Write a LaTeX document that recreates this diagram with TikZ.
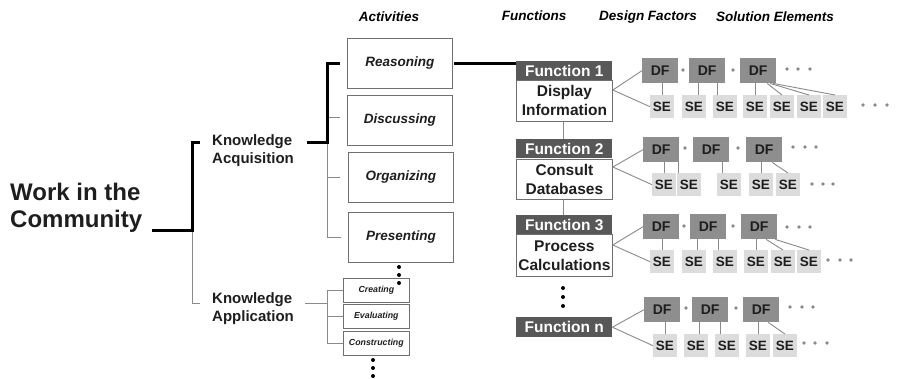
\documentclass[tikz,border=0pt]{standalone}
\usepackage{fontspec}
\setmainfont{Liberation Sans}
\definecolor{headgray}{HTML}{585858}
\definecolor{dfgray}{HTML}{8E8E8E}
\definecolor{segray}{HTML}{DCDCDC}
\definecolor{boxgray}{HTML}{707070}
\definecolor{linegray}{HTML}{8A8A8A}
\definecolor{dotgray}{HTML}{8A8A8A}
\definecolor{inkgray}{HTML}{1E1E1E}
\tikzset{
  thickln/.style={line width=3pt, draw=black},
  thinln/.style={line width=0.9pt, draw=linegray},
  conn/.style={line width=0.9pt, draw=linegray},
  title/.style={font=\fontsize{13.5}{15}\selectfont\bfseries\itshape, inner sep=0},
  grouplbl/.style={font=\fontsize{15}{18}\selectfont\bfseries, align=left, anchor=west, inner sep=0, text=inkgray},
  actbox/.style={draw=boxgray, line width=0.8pt, minimum width=105pt, minimum height=50pt,
    inner sep=0, anchor=north west, font=\fontsize{13.5}{16}\selectfont\bfseries\itshape, text=inkgray},
  smallbox/.style={draw=boxgray, line width=0.7pt, minimum width=66pt, minimum height=24pt,
    inner sep=0, anchor=north west, font=\fontsize{8.8}{10}\selectfont\bfseries\itshape, text=inkgray},
  fhead/.style={fill=headgray, text=white, minimum width=96pt, minimum height=19pt, inner sep=0,
    anchor=north west, font=\fontsize{15.5}{17}\selectfont\bfseries},
  fbody/.style={draw=boxgray, line width=0.8pt, fill=white, minimum width=96pt, inner sep=0,
    anchor=north west, align=center, font=\fontsize{15.5}{19}\selectfont\bfseries, text=inkgray},
  dfbox/.style={fill=dfgray, minimum width=36pt, minimum height=25pt, inner sep=0, anchor=north west,
    font=\fontsize{14}{16}\selectfont\bfseries, text=inkgray},
  sebox/.style={fill=segray, minimum width=23.5pt, minimum height=23pt, inner sep=0, anchor=north west,
    font=\fontsize{13.5}{16}\selectfont\bfseries, text=inkgray},
}
\newcommand{\gdot}[2]{\fill[dotgray] (#1,#2) circle[radius=1.8pt];}
\newcommand{\bdot}[2]{\fill[black] (#1,#2) circle[radius=2pt];}
\begin{document}
\begin{tikzpicture}[x=1pt,y=-1pt]
\useasboundingbox (0,0) rectangle (920,378);

% column titles
\node[title] (tact) at (389,17) {Activities};
\node[title] (tfun) at (534,16) {Functions};
\node[title] (tdf)  at (648,17) {Design Factors};
\node[title] (tse)  at (775,17) {Solution Elements};

% root and second level
\node[font=\fontsize{24}{27}\selectfont\bfseries, align=left, anchor=west, inner sep=0, text=inkgray]
  (root) at (10,208) {Work in the\\Community};
\node[grouplbl] (ka) at (212,151) {Knowledge\\Acquisition};
\node[grouplbl] (kp) at (212,309) {Knowledge\\Application};

% activities
\node[actbox] (a1) at (347,38)  {Reasoning};
\node[actbox] (a2) at (347,95)  {Discussing};
\node[actbox] (a3) at (348,152) {Organizing};
\node[actbox] (a4) at (348,212) {Presenting};
\node[smallbox] (b1) at (343,278) {Creating};
\node[smallbox] (b2) at (343,304) {Evaluating};
\node[smallbox] (b3) at (343,331) {Constructing};

% tree lines
\coordinate (rj) at (192,230);
\draw[thinln] (rj) -- (192,303) -- (200,303);
\draw[thickln] (152,230) -- (rj) -- (192,142) -- (200,142);
\coordinate (kj) at (327,142);
\draw[thinln] (kj) -- (327,237) -- ([xshift=-7pt]a4.west |- 0,237);
\draw[thinln] (327,117) -- ([xshift=-7pt]a2.west |- 0,117);
\draw[thinln] (327,177) -- ([xshift=-8pt]a3.west |- 0,177);
\draw[thickln] (307,142) -- (kj) -- (327,63) -- ([xshift=-7pt]a1.west |- 0,63);
\draw[thinln] (305,303) -- (327,303);
\draw[thinln] (b1.west) ++(-16,0) -- (b3.west -| 327,0);
\draw[thinln] ([xshift=-16pt]b1.west) -- (b1.west);
\draw[thinln] ([xshift=-16pt]b2.west) -- (b2.west);
\draw[thinln] ([xshift=-16pt]b3.west) -- (b3.west);
\bdot{399}{267}\bdot{399}{275}\bdot{399}{283}
\bdot{373}{360}\bdot{373}{368}\bdot{373}{376}

% functions
\node[fbody, minimum height=41pt] (f1b) at (516,80) {Display\\Information};
\node[fhead] (f1h) at (516,61) {Function 1};
\node[fbody, minimum height=40pt] (f2b) at (516,159) {Consult\\Databases};
\node[fhead] (f2h) at (516,139) {Function 2};
\node[fbody, minimum height=42pt] (f3b) at (516,234) {Process\\Calculations};
\node[fhead] (f3h) at (516,215) {Function 3};
\node[fhead, minimum height=20pt] (fnh) at (516,317) {Function n};
\draw[thickln] ([xshift=1pt]a1.east |- 0,63) -- (f1h.west |- 0,63);
\draw[thinln] (f1b.south -| 563,0) -- (f2h.north -| 563,0);
\draw[thinln] (f2b.south -| 563,0) -- (f3h.north -| 563,0);
\bdot{563}{288}\bdot{563}{297}\bdot{563}{306}

% ---- row 1
\node[dfbox] (p1) at (642,58) {DF};
\node[dfbox] (p2) at (689,58) {DF};
\node[dfbox] (p3) at (740,58) {DF};
\node[sebox] (q1) at (650,95) {SE};
\node[sebox] (q2) at (682,95) {SE};
\node[sebox] (q3) at (713,95) {SE};
\node[sebox] (q4) at (743,95) {SE};
\node[sebox] (q5) at (770,95) {SE};
\node[sebox] (q6) at (797,95) {SE};
\node[sebox] (q7) at (823,95) {SE};
\coordinate (o1) at ([yshift=-10pt]f1b.north east);
\draw[conn] (o1) -- (p1.west);
\draw[conn] (o1) -- (q1.west);
\draw[conn] (q1.north) -- (q1.north |- p1.south);
\draw[conn] ([xshift=4pt]q2.north) -- ([xshift=4pt]q2.north |- p2.south);
\draw[conn] ([xshift=-7.5pt]q3.north) -- ([xshift=-7.5pt]q3.north |- p2.south);
\draw[conn] (q4.north) -- (q4.north |- p3.south);
\draw[conn] ([xshift=9pt]p3.south) -- (q5.north);
\draw[conn] ([xshift=12pt]p3.south) -- (q6.north);
\draw[conn] ([xshift=15pt]p3.south) -- (q7.north);
\gdot{683}{70}\gdot{733}{70}
\gdot{787}{69}\gdot{798}{69}\gdot{810}{69}
\gdot{863}{105}\gdot{875}{105}\gdot{887}{105}

% ---- row 2
\node[dfbox] (r1) at (643,137) {DF};
\node[dfbox] (r2) at (693,137) {DF};
\node[dfbox] (r3) at (746,137) {DF};
\node[sebox] (s1) at (652,173) {SE};
\node[sebox] (s2) at (677,173) {SE};
\node[sebox] (s3) at (717,173) {SE};
\node[sebox] (s4) at (749,173) {SE};
\node[sebox] (s5) at (776,173) {SE};
\coordinate (o2) at ([yshift=-8pt]f2b.north east);
\draw[conn] (o2) -- (r1.west);
\draw[conn] (o2) -- (s1.west);
\draw[conn] (s1.north) -- (s1.north |- r1.south);
\draw[conn] ([xshift=-10.5pt]s2.north) -- ([xshift=-10.5pt]s2.north |- r1.south);
\draw[conn] ([xshift=-6.5pt]s3.north) -- ([xshift=-6.5pt]s3.north |- r2.south);
\draw[conn] (s4.north) -- (s4.north |- r3.south);
\draw[conn] ([xshift=8pt]r3.south) -- (s5.north);
\gdot{685}{148}\gdot{738}{148}
\gdot{793}{147}\gdot{805}{147}\gdot{816}{147}
\gdot{812}{184}\gdot{823}{184}\gdot{833}{184}

% ---- row 3
\node[dfbox] (t1) at (643,214) {DF};
\node[dfbox] (t2) at (690,214) {DF};
\node[dfbox] (t3) at (741,214) {DF};
\node[sebox] (u1) at (650,250) {SE};
\node[sebox] (u2) at (682,250) {SE};
\node[sebox] (u3) at (713,250) {SE};
\node[sebox] (u4) at (744,250) {SE};
\node[sebox] (u5) at (771,250) {SE};
\node[sebox] (u6) at (797,250) {SE};
\coordinate (o3) at ([yshift=-11pt]f3b.north east);
\draw[conn] (o3) -- (t1.west);
\draw[conn] (o3) -- (u1.west);
\draw[conn] (u1.north) -- (u1.north |- t1.south);
\draw[conn] ([xshift=3.5pt]u2.north) -- ([xshift=3.5pt]u2.north |- t2.south);
\draw[conn] ([xshift=-7pt]u3.north) -- ([xshift=-7pt]u3.north |- t2.south);
\draw[conn] (u4.north) -- (u4.north |- t3.south);
\draw[conn] ([xshift=7pt]t3.south) -- (u5.north);
\draw[conn] ([xshift=16pt]t3.south) -- (u6.north);
\gdot{684}{226}\gdot{733}{226}
\gdot{787}{227}\gdot{799}{227}\gdot{810}{227}
\gdot{828}{260}\gdot{840}{260}\gdot{851}{260}

% ---- row 4
\node[dfbox] (v1) at (644,297) {DF};
\node[dfbox] (v2) at (692,297) {DF};
\node[dfbox] (v3) at (743,297) {DF};
\node[sebox] (w1) at (653,334) {SE};
\node[sebox] (w2) at (684,334) {SE};
\node[sebox] (w3) at (715,334) {SE};
\node[sebox] (w4) at (746,334) {SE};
\node[sebox] (w5) at (773,334) {SE};
\draw[conn] (fnh.east) -- (v1.west);
\draw[conn] (fnh.east) -- (w1.west);
\draw[conn] (w1.north) -- (w1.north |- v1.south);
\draw[conn] ([xshift=3.5pt]w2.north) -- ([xshift=3.5pt]w2.north |- v2.south);
\draw[conn] ([xshift=-6.5pt]w3.north) -- ([xshift=-6.5pt]w3.north |- v2.south);
\draw[conn] (w4.north) -- (w4.north |- v3.south);
\draw[conn] ([xshift=7pt]v3.south) -- (w5.north);
\gdot{686}{308}\gdot{736}{308}
\gdot{790}{307}\gdot{802}{307}\gdot{813}{307}
\gdot{804}{343}\gdot{815}{343}\gdot{827}{343}
\end{tikzpicture}
\end{document}
